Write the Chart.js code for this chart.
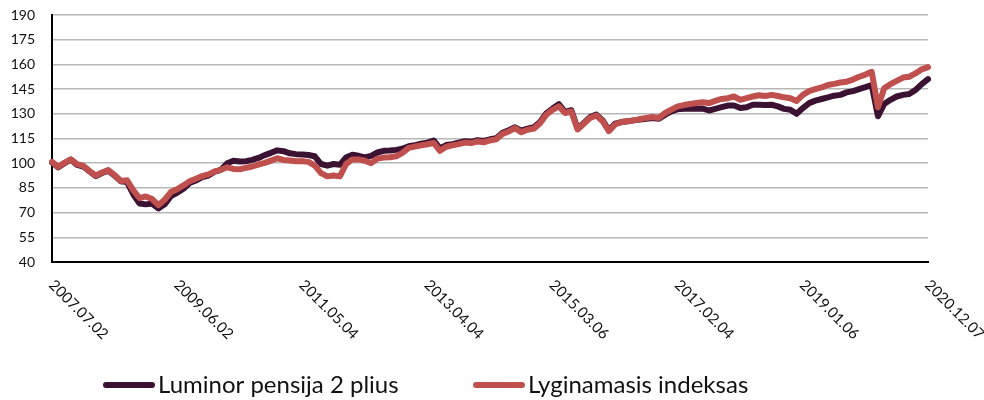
<!DOCTYPE html>
<html lang="lt">
<head>
<meta charset="utf-8">
<title>Luminor pensija 2 plius</title>
<script src="https://cdn.jsdelivr.net/npm/chart.js@4.4.1/dist/chart.umd.min.js"></script>
<style>
  html, body { margin: 0; padding: 0; background: #fff; }
  #wrap { width: 984px; height: 400px; position: relative; }
</style>
</head>
<body>
<div id="wrap"><canvas id="chart"></canvas></div>
<script>
// Datos etiketės ant X ašies (kas 20 taškų)
const tickLabels = ['2007.07.02', '2009.06.02', '2011.05.04', '2013.04.04',
                    '2015.03.06', '2017.02.04', '2019.01.06', '2020.12.07'];
const pointsPerTick = 20;

// Luminor pensija 2 plius (nuskaityta nuo grafiko, ~kas 35 d.)
const luminor = [
  100.5, 97.5, 100, 102.2, 99, 98, 95, 92.2, 94, 95.5,
  92.5, 89, 88.5, 81, 75.5, 75, 75.5, 72.5, 75, 80,
  82, 84.5, 88, 89.5, 91.5, 92.5, 94.8, 96, 100, 101.5,
  101, 101.2, 102, 103.2, 104.9, 106.3, 107.8, 107.3, 106, 105.5,
  105.3, 105, 104.2, 99.5, 98.5, 99.5, 99, 103.5, 105.2, 104.5,
  103.5, 104.5, 106.5, 107.5, 107.7, 108.1, 108.8, 110.3, 111, 111.8,
  112.5, 113.8, 109, 111, 111.6, 112.5, 113.3, 113, 114, 113.5,
  114.5, 115.2, 118.5, 120, 121.8, 119.8, 121, 121.8, 125, 130.3,
  133.2, 135.8, 131.2, 132.2, 121, 124.5, 128, 129.5, 126, 120,
  124, 125, 125.5, 126, 126.5, 127, 127.5, 127, 129.5, 131.5,
  132.8, 133, 133.2, 133, 133.2, 132, 133, 134, 135, 135,
  133.5, 134, 135.5, 135.5, 135.3, 135.5, 134.5, 133, 132.5, 130,
  133.5, 136.5, 138, 139, 140, 141, 141.5, 143, 143.8, 145,
  146.2, 147.5, 128.5, 136, 138.5, 140.5, 141.5, 142, 144.5, 148,
  151
];

// Lyginamasis indeksas
const benchmark = [
  100.8, 97.8, 100.2, 102.4, 99.4, 98.4, 95.2, 92.5, 94.3, 95.8,
  92.8, 89.2, 89.6, 83.5, 78.8, 79.8, 78.2, 74.5, 77.8, 82.5,
  84.2, 86.5, 89, 90.6, 92.2, 93.2, 95, 96, 97.5, 96.5,
  96.3, 97.2, 98, 99.2, 100.2, 101.6, 103, 102, 101.6, 101.2,
  101.2, 100.8, 98.5, 94, 92, 92.5, 92, 99.5, 102.3, 102.3,
  101.5, 100, 102.8, 103.4, 103.6, 104.2, 106.3, 109.3, 110.1, 110.8,
  111.5, 112.3, 107.5, 110, 110.8, 111.6, 112.5, 112.2, 113.2, 112.7,
  113.8, 114.5, 117.8, 119.3, 121.3, 118.8, 120.3, 121, 124.3, 129.5,
  132.4, 134.5, 130.5, 131.4, 120.5, 124, 127.5, 129, 125.5, 119.5,
  123.5, 125, 125.5, 126, 126.8, 127.5, 128, 127.5, 130.5, 132.5,
  134.5, 135.3, 136, 136.5, 137, 136.5, 137.8, 139, 139.5, 140.5,
  138.5, 139.5, 140.5, 141.3, 140.8, 141.5, 140.8, 140, 139.5, 137.8,
  141.5, 143.8, 145, 146, 147.5, 148.2, 149, 149.5, 150.8, 152.5,
  153.8, 155.5, 134, 145.5, 148, 150, 152, 152.5, 154.5, 157,
  158.3
];

const categories = luminor.map((_, i) => i);

const FONT = 'Lato, "Open Sans", sans-serif';
const TEXT = '#111';

// Pasuktos datų etiketės (tekstas eina žemyn į dešinę nuo padalos)
const dateTicks = {
  id: 'dateTicks',
  afterDraw(chart) {
    const ctx = chart.ctx;
    const xs = chart.scales.x;
    ctx.save();
    ctx.font = '15px ' + FONT;
    ctx.fillStyle = TEXT;
    ctx.textAlign = 'left';
    ctx.textBaseline = 'alphabetic';
    tickLabels.forEach((t, i) => {
      const px = xs.getPixelForValue(i * pointsPerTick);
      ctx.save();
      ctx.translate(px - 4, chart.chartArea.bottom + 24);
      ctx.rotate(Math.PI / 4);
      ctx.fillText(t, 0, 0);
      ctx.restore();
    });
    ctx.restore();
  }
};

// Legenda apačioje
const lineLegend = {
  id: 'lineLegend',
  afterDraw(chart) {
    const ctx = chart.ctx;
    const starts = [103, 473];
    ctx.save();
    ctx.font = '24px ' + FONT;
    ctx.textAlign = 'left';
    ctx.textBaseline = 'alphabetic';
    chart.data.datasets.forEach((ds, i) => {
      const x0 = starts[i];
      ctx.strokeStyle = ds.borderColor;
      ctx.lineWidth = 6;
      ctx.lineCap = 'round';
      ctx.beginPath();
      ctx.moveTo(x0 + 3, 385);
      ctx.lineTo(x0 + 49, 385);
      ctx.stroke();
      ctx.fillStyle = TEXT;
      ctx.fillText(ds.label, x0 + 55, 393);
    });
    ctx.restore();
  }
};

new Chart(document.getElementById('chart'), {
  type: 'line',
  data: {
    labels: categories,
    datasets: [
      {
        label: 'Luminor pensija 2 plius',
        data: luminor,
        borderColor: '#3b1232',
        borderWidth: 6,
        pointRadius: 0,
        tension: 0,
        borderJoinStyle: 'round',
        borderCapStyle: 'round',
        order: 1
      },
      {
        label: 'Lyginamasis indeksas',
        data: benchmark,
        borderColor: '#c0504d',
        borderWidth: 6,
        pointRadius: 0,
        tension: 0,
        borderJoinStyle: 'round',
        borderCapStyle: 'round',
        order: 0
      }
    ]
  },
  options: {
    responsive: true,
    maintainAspectRatio: false,
    animation: false,
    layout: { padding: { top: 15, right: 56, left: 0, bottom: 0 } },
    plugins: {
      legend: { display: false },
      tooltip: { enabled: false }
    },
    scales: {
      x: {
        type: 'category',
        afterFit: s => { s.height = 138; },
        ticks: { display: false },
        grid: { display: false, drawTicks: false },
        border: { color: '#000', width: 2 }
      },
      y: {
        min: 40,
        max: 190,
        afterFit: s => {
          s.width = 52;
          // tick padding neturi stumti braižymo srities žemyn
          s.paddingTop = 0;
          s.paddingBottom = 0;
        },
        ticks: {
          stepSize: 15,
          padding: 17,
          color: TEXT,
          font: { family: FONT, size: 14 }
        },
        grid: { color: '#b7b7b7', lineWidth: 1.5, drawTicks: false },
        border: { color: '#000', width: 2 }
      }
    }
  },
  plugins: [dateTicks, lineLegend]
});
</script>
</body>
</html>
